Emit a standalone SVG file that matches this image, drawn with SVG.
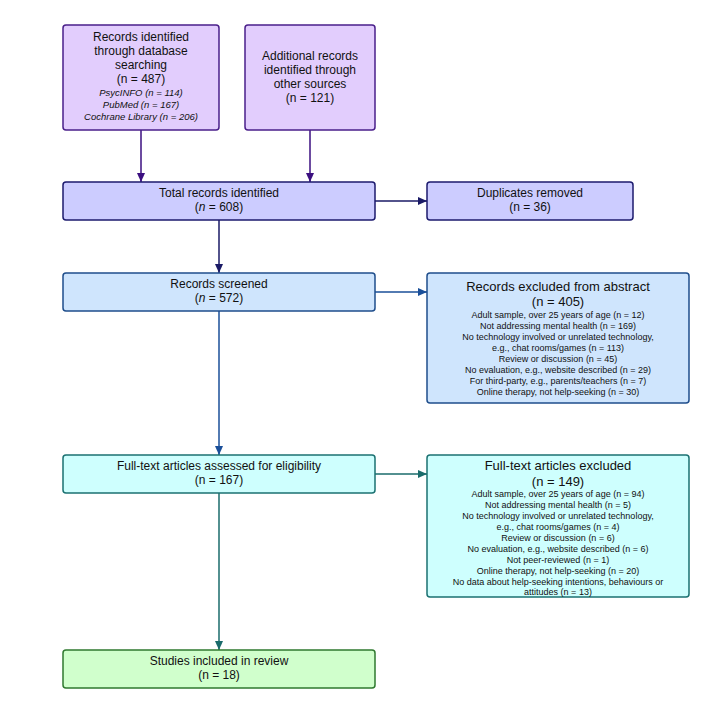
<svg xmlns="http://www.w3.org/2000/svg" width="725" height="715" viewBox="0 0 725 715">
<style>
text{font-family:"Liberation Sans",Arial,sans-serif;fill:#111;text-anchor:middle}
.m{font-size:12px}.s{font-size:9px}.i{font-size:9.5px;font-style:italic}.h{font-size:13px}
rect{stroke-width:1.5}
.p{fill:#e2cdfd;stroke:#4a1f8a}.t{fill:#ccccff;stroke:#1c1a6e}.b{fill:#cfe5fd;stroke:#1f4e8c}.c{fill:#cefffe;stroke:#1b7272}.g{fill:#d0ffcc;stroke:#2f7a2f}
line{stroke-width:1.5;fill:none}
</style>
<defs>
<marker id="ap" markerWidth="10" markerHeight="10" refX="9" refY="5" orient="auto" markerUnits="userSpaceOnUse"><path d="M0,1L9,5L0,9z" fill="#3b0f80"/></marker>
<marker id="an" markerWidth="10" markerHeight="10" refX="9" refY="5" orient="auto" markerUnits="userSpaceOnUse"><path d="M0,1L9,5L0,9z" fill="#1a1a66"/></marker>
<marker id="ab" markerWidth="10" markerHeight="10" refX="9" refY="5" orient="auto" markerUnits="userSpaceOnUse"><path d="M0,1L9,5L0,9z" fill="#1a4f99"/></marker>
<marker id="at" markerWidth="10" markerHeight="10" refX="9" refY="5" orient="auto" markerUnits="userSpaceOnUse"><path d="M0,1L9,5L0,9z" fill="#1a6b6b"/></marker>
</defs>
<g id="connectors">
<line x1="141" y1="130" x2="141" y2="182" stroke="#3b0f80" marker-end="url(#ap)"/>
<line x1="310" y1="130" x2="310" y2="182" stroke="#3b0f80" marker-end="url(#ap)"/>
<line x1="219" y1="220" x2="219" y2="273" stroke="#1a1a66" marker-end="url(#an)"/>
<line x1="375" y1="201" x2="427" y2="201" stroke="#1a1a66" marker-end="url(#an)"/>
<line x1="219" y1="311" x2="219" y2="455" stroke="#1a4f99" marker-end="url(#ab)"/>
<line x1="375" y1="292" x2="427" y2="292" stroke="#1a4f99" marker-end="url(#ab)"/>
<line x1="219" y1="493" x2="219" y2="650" stroke="#1a6b6b" marker-end="url(#at)"/>
<line x1="375" y1="474" x2="427" y2="474" stroke="#1a6b6b" marker-end="url(#at)"/>
</g>
<g id="db"><rect class="p" x="63" y="25" width="156" height="105" rx="3"/>
<text class="m" x="141" y="41">Records identified</text><text class="m" x="141" y="55">through database</text><text class="m" x="141" y="69">searching</text><text class="m" x="141" y="83">(n  = 487)</text>
<text class="i" x="141" y="96">PsycINFO (n = 114)</text><text class="i" x="141" y="108">PubMed (n = 167)</text><text class="i" x="141" y="120">Cochrane Library (n = 206)</text></g>
<g id="other"><rect class="p" x="245" y="25" width="130" height="105" rx="3"/>
<text class="m" x="310" y="60">Additional records</text><text class="m" x="310" y="74">identified through</text><text class="m" x="310" y="88">other sources</text><text class="m" x="310" y="102">(n = 121)</text></g>
<g id="total"><rect class="t" x="63" y="182" width="312" height="38" rx="3"/>
<text class="m" x="219" y="197">Total records identified</text><text class="m" x="219" y="211">(<tspan font-style="italic">n</tspan> = 608)</text></g>
<g id="dup"><rect class="t" x="427" y="182" width="206" height="38" rx="3"/>
<text class="m" x="530" y="197">Duplicates removed</text><text class="m" x="530" y="211">(n = 36)</text></g>
<g id="screened"><rect class="b" x="63" y="273" width="312" height="38" rx="3"/>
<text class="m" x="219" y="288">Records screened</text><text class="m" x="219" y="302">(<tspan font-style="italic">n</tspan> = 572)</text></g>
<g id="excl1"><rect class="b" x="427" y="273" width="262" height="130" rx="3"/>
<text class="h" x="558" y="291">Records excluded from abstract</text><text class="h" x="558" y="306">(n = 405)</text>
<text class="s" x="558" y="318">Adult sample, over 25 years of age (n = 12)</text>
<text class="s" x="558" y="329">Not addressing mental health (n = 169)</text>
<text class="s" x="558" y="340">No technology involved or unrelated technology,</text>
<text class="s" x="558" y="351">e.g., chat rooms/games (n = 113)</text>
<text class="s" x="558" y="362">Review or discussion (n  = 45)</text>
<text class="s" x="558" y="373">No evaluation, e.g., website described (n = 29)</text>
<text class="s" x="558" y="384">For third-party, e.g., parents/teachers (n = 7)</text>
<text class="s" x="558" y="395">Online therapy, not help-seeking (n = 30)</text></g>
<g id="fulltext"><rect class="c" x="63" y="455" width="312" height="38" rx="3"/>
<text class="m" x="219" y="470">Full-text articles assessed for eligibility</text><text class="m" x="219" y="484">(n = 167)</text></g>
<g id="excl2"><rect class="c" x="427" y="455" width="262" height="142" rx="3"/>
<text class="h" x="558" y="470">Full-text articles excluded</text><text class="h" x="558" y="486">(n = 149)</text>
<text class="s" x="558" y="497">Adult sample, over 25 years of age (n = 94)</text>
<text class="s" x="558" y="508">Not addressing mental health (n = 5)</text>
<text class="s" x="558" y="519">No technology involved or unrelated technology,</text>
<text class="s" x="558" y="530">e.g., chat rooms/games (n = 4)</text>
<text class="s" x="558" y="541">Review or discussion (n  = 6)</text>
<text class="s" x="558" y="552">No evaluation, e.g., website described (n = 6)</text>
<text class="s" x="558" y="563">Not peer-reviewed (n = 1)</text>
<text class="s" x="558" y="574">Online therapy, not help-seeking (n = 20)</text>
<text class="s" x="558" y="585">No data about help-seeking intentions, behaviours or</text>
<text class="s" x="558" y="595">attitudes (n = 13)</text></g>
<g id="included"><rect class="g" x="63" y="650" width="312" height="38" rx="3"/>
<text class="m" x="219" y="665">Studies included in review</text><text class="m" x="219" y="679">(n = 18)</text></g>
</svg>
